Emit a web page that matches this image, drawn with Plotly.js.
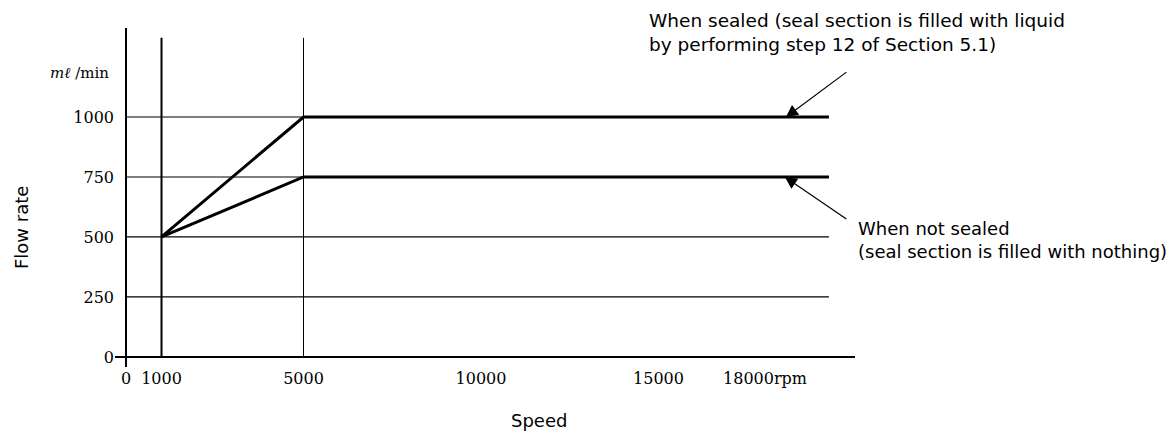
<!DOCTYPE html>
<html>
<head>
<meta charset="utf-8">
<script src="https://cdn.plot.ly/plotly-3.0.1.min.js"></script>
<style>html,body{margin:0;padding:0;background:#fff;}#chart{width:1174px;height:434px;}</style>
</head>
<body>
<div id="chart"></div>
<script>
// Data
const speedPts = [1000, 5000, 19800];          // rpm, breakpoints of the curves
const sealedFlow = [500, 1000, 1000];          // mℓ/min, when sealed
const notSealedFlow = [500, 750, 750];         // mℓ/min, when not sealed
const refSpeeds = [1000, 5000];                // vertical reference lines
const refWidths = [2, 1];
const refTop = 1330;
const yTicks = [0, 250, 500, 750, 1000];
const yTickText = ['0', '250', '500', '750', '1000'];
const xTicks = [0, 1000, 5000, 10000, 15000, 18000];
const xTickText = ['0', '1000', '5000', '10000', '15000', '18000rpm'];

const serif = 'DejaVu Serif, Liberation Serif, serif';
const sans = 'DejaVu Sans, Liberation Sans, Arial, sans-serif';
const lineEnd = speedPts[speedPts.length - 1];

const traces = [
  {x: speedPts, y: sealedFlow, mode: 'lines', line: {color: '#000', width: 3}, showlegend: false, hoverinfo: 'skip'},
  {x: speedPts, y: notSealedFlow, mode: 'lines', line: {color: '#000', width: 3}, showlegend: false, hoverinfo: 'skip'}
];

const shapes = [];
yTicks.filter(v => v > 0).forEach(v => {
  shapes.push({type: 'line', xref: 'x', yref: 'y', x0: 0, x1: lineEnd, y0: v, y1: v,
    line: {color: '#000', width: 1.2}, layer: 'below'});
});
refSpeeds.forEach((v, i) => {
  shapes.push({type: 'line', xref: 'x', yref: 'y', x0: v, x1: v, y0: 0, y1: refTop,
    line: {color: '#000', width: refWidths[i]}, layer: 'below'});
});

const layout = {
  width: 1174, height: 434,
  margin: {l: 115, r: 319, t: 28, b: 67},
  paper_bgcolor: '#fff', plot_bgcolor: '#fff',
  showlegend: false,
  xaxis: {
    range: [-310, 20535], tickmode: 'array', tickvals: xTicks, ticktext: xTickText,
    showgrid: false, zeroline: true, zerolinecolor: '#000', zerolinewidth: 2,
    showline: false, ticks: '', tickfont: {family: serif, size: 16, color: '#000'}
  },
  yaxis: {
    range: [-42, 1371], tickmode: 'array', tickvals: yTicks, ticktext: yTickText,
    showgrid: false, zeroline: true, zerolinecolor: '#000', zerolinewidth: 1.5,
    showline: false, ticks: '', tickfont: {family: serif, size: 16, color: '#000'}
  },
  shapes: shapes,
  annotations: [
    {xref: 'paper', yref: 'paper', x: -0.0054, y: 0.867, xanchor: 'right', yanchor: 'middle',
     text: '<i>mℓ</i> /min', showarrow: false, font: {family: serif, size: 15, color: '#000'}},
    {xref: 'paper', yref: 'paper', x: -0.127, y: 0.41, xanchor: 'center', yanchor: 'middle',
     text: 'Flow rate', textangle: -90, showarrow: false, font: {family: sans, size: 18, color: '#000'}},
    {xref: 'paper', yref: 'paper', x: 0.573, y: -0.159, xanchor: 'center', yanchor: 'middle',
     text: 'Speed', showarrow: false, font: {family: sans, size: 18, color: '#000'}},
    {xref: 'paper', yref: 'paper', x: 0.719, y: 0.987, xanchor: 'left', yanchor: 'middle', align: 'left',
     text: 'When sealed (seal section is filled with liquid<br>by performing step 12 of Section 5.1)',
     showarrow: false, font: {family: sans, size: 18.5, color: '#000'}},
    {xref: 'paper', yref: 'paper', x: 1.001, y: 0.375, xanchor: 'left', yanchor: 'middle', align: 'left',
     text: 'When not sealed<br>(seal section is filled with nothing)',
     showarrow: false, font: {family: sans, size: 18, color: '#000'}},
    {xref: 'x', yref: 'y', x: 18590, y: sealedFlow[2], text: '', showarrow: true,
     ax: 62, ay: -46, arrowhead: 2, arrowsize: 2, arrowwidth: 1.2, arrowcolor: '#000'},
    {xref: 'x', yref: 'y', x: 18560, y: notSealedFlow[2], text: '', showarrow: true,
     ax: 63, ay: 43, arrowhead: 2, arrowsize: 2, arrowwidth: 1.2, arrowcolor: '#000'}
  ]
};

Plotly.newPlot('chart', traces, layout, {displayModeBar: false, staticPlot: true});
</script>
</body>
</html>
